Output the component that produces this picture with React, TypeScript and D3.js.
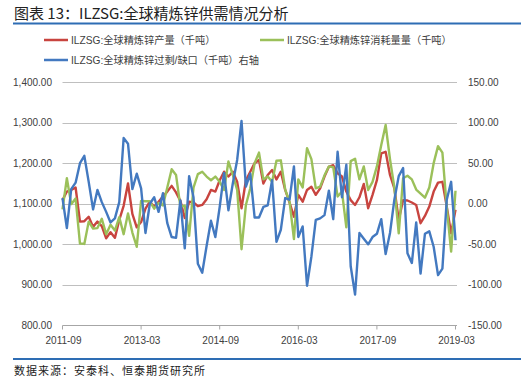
import * as d3 from 'd3';

// 2011-09 .. 2019-03, monthly
const months = d3.timeMonth
  .range(new Date(2011, 8, 1), new Date(2019, 3, 1))
  .map(d3.timeFormat('%Y-%m'));

const tickMonths = ['2011-09', '2013-03', '2014-09', '2016-03', '2017-09', '2019-03'];
const leftTicks = [800, 900, 1000, 1100, 1200, 1300, 1400];
const rightTicks = [-150, -100, -50, 0, 50, 100, 150];

// 全球精炼锌产量（千吨）
const production = [
  1109, 1130, 1134, 1140, 1056, 1057, 1068, 1043, 1056, 1045,
  1015, 1030, 1016, 1060, 1095, 1150, 1075, 1042, 1055, 1088,
  1105, 1093, 1105, 1118, 1130, 1144, 1128, 1107, 1065, 1105,
  1103, 1094, 1097, 1111, 1134, 1130, 1158, 1179, 1167, 1179,
  1154, 1089, 1158, 1179, 1200, 1208, 1150, 1171, 1183, 1160,
  1179, 1134, 1103, 1068, 1122, 1105, 1134, 1142, 1122, 1138,
  1167, 1191, 1195, 1175, 1167, 1130, 1109, 1097, 1116, 1149,
  1089, 1122, 1158, 1224, 1228, 1171, 1138, 1060, 1109, 1108,
  1103, 1097, 1052, 1070, 1093, 1130, 1152, 1154, 1093, 1027,
  1085,
];

// 全球精炼锌消耗量（千吨）
const consumption = [
  1086, 1163, 1099, 1113, 1002, 1001, 1056, 1039, 1040, 1063,
  1025, 1048, 1034, 1067, 1025, 1076, 1029, 994, 1107, 1106,
  1106, 1088, 1102, 1096, 1140, 1185, 1171, 1093, 1095, 1021,
  1140, 1173, 1179, 1167, 1158, 1167, 1154, 1134, 1204, 1171,
  1134, 988, 1097, 1138, 1200, 1226, 1160, 1167, 1154, 1206,
  1207, 1135, 1105, 1013, 1160, 1140, 1237, 1210, 1138, 1142,
  1170, 1192, 1190, 1118, 1130, 1042, 1205, 1211, 1160, 1192,
  1134, 1154, 1192, 1245, 1294, 1210, 1140, 1027, 1163, 1169,
  1160, 1135, 1125, 1115, 1140, 1200, 1242, 1226, 1091, 982,
  1132,
];

// 过剩/缺口（千吨）右轴
const balance = [
  7, -30, 18, 26, 50, 59, 27, -7, 17, 2,
  -10, -23, -18, 2, 81, 74, 18, 37, 19, -36,
  0, 8, -10, 13, -24, -41, -42, 4, -55, 34,
  8, -74, -85, -52, -21, -41, -4, 38, -8, 25,
  54, 102, 21, 37, -17, -17, -4, -2, 29, -47,
  -32, 7, 5, 46, -41, -28, -101, -65, -20, -18,
  -14, 16, -19, 64, 8, 48, -77, -112, -36, -43,
  -50, -41, -37, -19, -62, -36, 5, 34, 44, -61,
  -73, -23, -86, -37, -34, -53, -88, -80, 5, 27,
  -45,
];

const RED = '#C8443F';
const GREEN = '#9BC05A';
const BLUE = '#4379C0';
const TEXT = '#404040';
const FONT = '"Liberation Sans", Arial, "Noto Sans CJK SC", sans-serif';

const locale = d3.formatLocale({
  decimal: '.',
  thousands: ',',
  grouping: [3],
  currency: ['', ''],
  minus: '-',
});
const fmtLeft = locale.format(',.2f');
const fmtRight = locale.format('.2f');

export default function App() {
  const width = 521;
  const height = 384;
  const plot = { left: 62.5, right: 455.5, top: 82, bottom: 325.5 };

  const x = d3.scalePoint<string>().domain(months).range([plot.left, plot.right]);
  const yL = d3.scaleLinear().domain([800, 1400]).range([plot.bottom, plot.top]);
  const yR = d3.scaleLinear().domain([-150, 150]).range([plot.bottom, plot.top]);

  const lineL = (vals: number[]) =>
    d3
      .line<number>()
      .x((_, i) => x(months[i]) ?? 0)
      .y((v) => yL(v))(vals) ?? '';
  const lineR = d3
    .line<number>()
    .x((_, i) => x(months[i]) ?? 0)
    .y((v) => yR(v))(balance) ?? '';

  const legend = [
    { label: 'ILZSG:全球精炼锌产量（千吨）', color: RED, x: 44, y: 40 },
    { label: 'ILZSG:全球精炼锌消耗量量（千吨）', color: GREEN, x: 260, y: 40 },
    { label: 'ILZSG:全球精炼锌过剩/缺口（千吨）右轴', color: BLUE, x: 44, y: 60 },
  ];

  return (
    <svg
      width={width}
      height={height}
      style={{ position: 'absolute', left: 0, top: 0, background: '#fff' }}
      fontFamily={FONT}
    >
      <rect width={width} height={height} fill="#fff" />
      <text x={14} y={19} fontSize={15} fill="#222" fontFamily='"Noto Sans CJK SC", sans-serif'>
        图表 13：ILZSG:全球精炼锌供需情况分析
      </text>
      <line x1={13} x2={521} y1={23.5} y2={23.5} stroke="#2E6DB4" strokeWidth={2} />

      {legend.map((l) => (
        <g key={l.label}>
          <line x1={l.x} x2={l.x + 24} y1={l.y} y2={l.y} stroke={l.color} strokeWidth={2.5} />
          <text x={l.x + 27} y={l.y + 3.5} fontSize={10.2} fill={TEXT}>
            {l.label}
          </text>
        </g>
      ))}

      {leftTicks.map((t) => (
        <g key={t}>
          {t > 800 && (
            <line
              x1={plot.left}
              x2={plot.right + 1.5}
              y1={Math.round(yL(t)) + 0.5}
              y2={Math.round(yL(t)) + 0.5}
              stroke="#BFBFBF"
              strokeWidth={1}
            />
          )}
          <text x={52} y={yL(t) + 3.5} fontSize={10} textAnchor="end" fill={TEXT}>
            {fmtLeft(t)}
          </text>
        </g>
      ))}
      {rightTicks.map((t) => (
        <text key={t} x={468} y={yR(t) + 3.5} fontSize={10} fill={TEXT}>
          {fmtRight(t)}
        </text>
      ))}

      <line x1={plot.left} x2={plot.right + 1.5} y1={325.5} y2={325.5} stroke="#A6A6A6" />
      {tickMonths.map((m) => (
        <g key={m}>
          <line x1={x(m)} x2={x(m)} y1={325.5} y2={329.5} stroke="#A6A6A6" />
          <text x={(x(m) ?? 0) + 1} y={344} fontSize={10} textAnchor="middle" fill={TEXT}>
            {m}
          </text>
        </g>
      ))}

      <path d={lineL(production)} fill="none" stroke={RED} strokeWidth={2.4} strokeLinejoin="round" />
      <path d={lineL(consumption)} fill="none" stroke={GREEN} strokeWidth={2.4} strokeLinejoin="round" />
      <path d={lineR} fill="none" stroke={BLUE} strokeWidth={2.4} strokeLinejoin="round" />

      <line x1={13} x2={521} y1={359} y2={359} stroke="#2E6DB4" strokeWidth={2} />
      <text
        x={14}
        y={375}
        fontSize={11}
        letterSpacing={1}
        fill="#222"
        fontFamily='"Noto Sans CJK SC", sans-serif'
      >
        数据来源：安泰科、恒泰期货研究所
      </text>
    </svg>
  );
}
